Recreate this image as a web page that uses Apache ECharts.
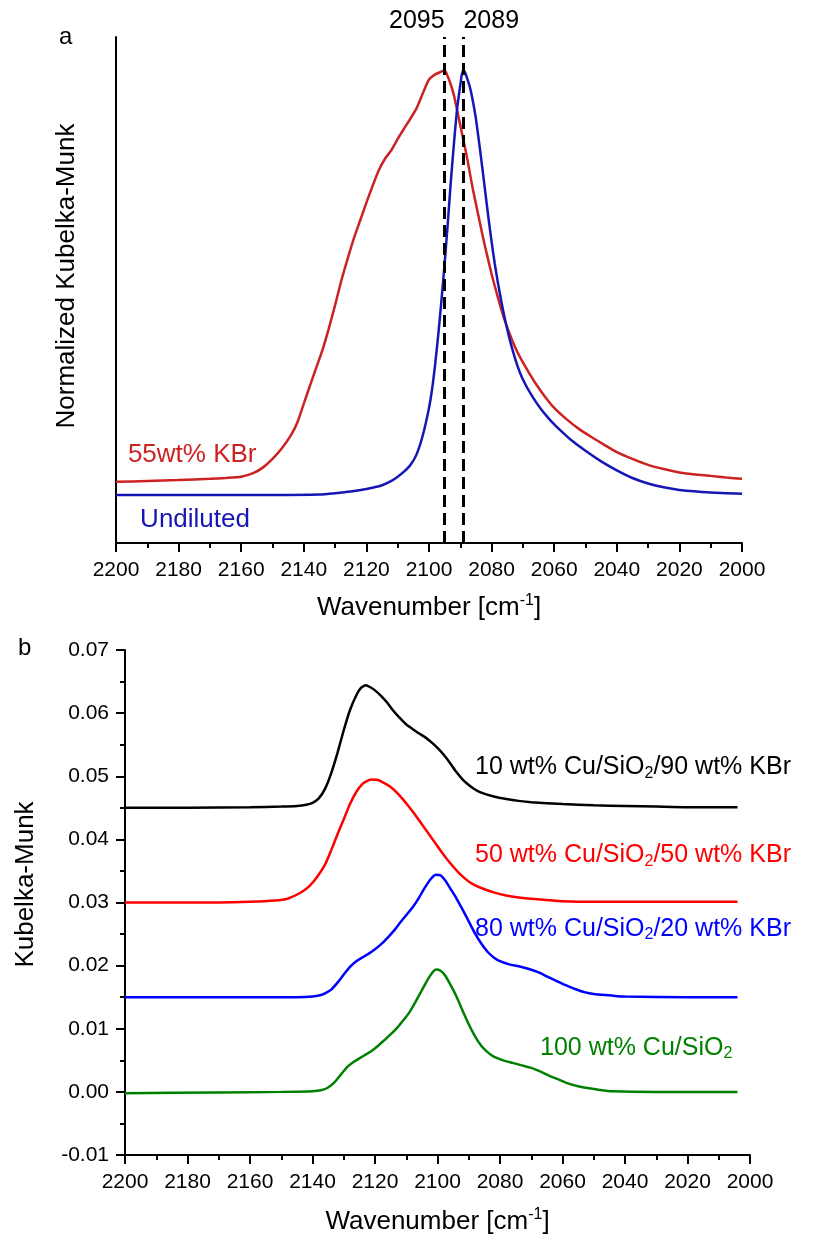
<!DOCTYPE html>
<html>
<head>
<meta charset="utf-8">
<script src="https://cdn.jsdelivr.net/npm/echarts@6/dist/echarts.min.js"></script>
<style>
  html, body { margin: 0; padding: 0; background: #fff; }
  #chart { width: 817px; height: 1236px; }
</style>
</head>
<body>
<div id="chart"></div>
<script>
// ---- Panel a: normalized Kubelka-Munk spectra ----
const kbrWn = [2200, 2190, 2180, 2170, 2165, 2160, 2156, 2153, 2150, 2147, 2144, 2142, 2140, 2138, 2136, 2134, 2132, 2130, 2128, 2126, 2124, 2122, 2120, 2118, 2116, 2114, 2112, 2110, 2108, 2106, 2104, 2102, 2100, 2098, 2096.5, 2095, 2094, 2093, 2092, 2091, 2090, 2089, 2088, 2087, 2086, 2085, 2084, 2083, 2082, 2080, 2078, 2076, 2074, 2072, 2070, 2068, 2066, 2063, 2060, 2056, 2052, 2048, 2044, 2040, 2035, 2030, 2025, 2020, 2015, 2010, 2005, 2000];
const kbrKM = [0.031, 0.033, 0.035, 0.038, 0.040, 0.043, 0.052, 0.065, 0.085, 0.110, 0.142, 0.172, 0.215, 0.258, 0.300, 0.342, 0.392, 0.447, 0.505, 0.556, 0.604, 0.646, 0.688, 0.728, 0.765, 0.792, 0.812, 0.838, 0.862, 0.885, 0.910, 0.945, 0.978, 0.990, 0.995, 1.000, 0.985, 0.965, 0.940, 0.905, 0.870, 0.835, 0.800, 0.760, 0.720, 0.685, 0.650, 0.615, 0.582, 0.520, 0.465, 0.415, 0.375, 0.340, 0.312, 0.287, 0.263, 0.232, 0.205, 0.178, 0.155, 0.136, 0.118, 0.101, 0.085, 0.071, 0.061, 0.053, 0.048, 0.045, 0.041, 0.038];

const undWn = [2200, 2150, 2135, 2130, 2125, 2120, 2115, 2112, 2110, 2108, 2106, 2104, 2102, 2100, 2099, 2098, 2097, 2096, 2095, 2094, 2093, 2092, 2091, 2090, 2089.5, 2089, 2088.5, 2088, 2087, 2086, 2085, 2084, 2083, 2082, 2081, 2080, 2079, 2078, 2077, 2076, 2075, 2074, 2072, 2070, 2067, 2064, 2061, 2058, 2055, 2050, 2045, 2040, 2035, 2030, 2025, 2020, 2010, 2000];
const undKM = [0, 0, 0.001, 0.004, 0.008, 0.014, 0.023, 0.033, 0.043, 0.055, 0.070, 0.095, 0.140, 0.205, 0.250, 0.310, 0.380, 0.460, 0.545, 0.640, 0.740, 0.830, 0.910, 0.965, 0.990, 1.000, 0.995, 0.985, 0.962, 0.928, 0.885, 0.830, 0.772, 0.712, 0.652, 0.596, 0.545, 0.500, 0.460, 0.423, 0.390, 0.360, 0.310, 0.272, 0.232, 0.200, 0.174, 0.152, 0.132, 0.104, 0.079, 0.058, 0.040, 0.027, 0.018, 0.012, 0.006, 0.003];

const peakPositions = [2095, 2089];

// ---- Panel b: Kubelka-Munk spectra for different dilutions (offset) ----
const wn10 = [2200, 2180, 2160, 2150, 2145, 2142, 2140, 2138, 2136, 2134, 2132, 2130, 2128, 2126, 2124.5, 2123, 2121.5, 2120, 2118, 2116, 2114, 2112, 2110, 2108, 2106, 2104, 2102, 2100, 2098, 2096, 2094, 2092, 2090, 2088, 2086, 2082, 2078, 2074, 2070, 2060, 2050, 2040, 2030, 2020, 2004];
const km10 = [0.0450, 0.0450, 0.0451, 0.0452, 0.0453, 0.0455, 0.0458, 0.0465, 0.0480, 0.0505, 0.0537, 0.0573, 0.0605, 0.0628, 0.0640, 0.0644, 0.0641, 0.0636, 0.0627, 0.0616, 0.0603, 0.0592, 0.0582, 0.0575, 0.0568, 0.0562, 0.0554, 0.0545, 0.0534, 0.0521, 0.0507, 0.0495, 0.0486, 0.0479, 0.0474, 0.0468, 0.0464, 0.0461, 0.0459, 0.0456, 0.0454, 0.0453, 0.0452, 0.0451, 0.0451];

const wn50 = [2200, 2170, 2160, 2152, 2148, 2144, 2141, 2138.6, 2136, 2134, 2132, 2130, 2128, 2126, 2124, 2122, 2121, 2119, 2117, 2115, 2113, 2111, 2109, 2107, 2105, 2103, 2101, 2099, 2097, 2095, 2093, 2091, 2089, 2086, 2082, 2078, 2074, 2068, 2060, 2050, 2004];
const km50 = [0.0300, 0.0300, 0.0301, 0.0303, 0.0306, 0.0315, 0.0326, 0.0340, 0.0360, 0.0383, 0.0408, 0.0432, 0.0456, 0.0475, 0.0488, 0.0494, 0.0495, 0.0494, 0.0489, 0.0483, 0.0474, 0.0463, 0.0451, 0.0438, 0.0424, 0.0410, 0.0396, 0.0382, 0.0369, 0.0357, 0.0346, 0.0337, 0.0330, 0.0323, 0.0316, 0.0311, 0.0308, 0.0305, 0.0302, 0.0301, 0.0301];

const wn80 = [2200, 2160, 2145, 2140, 2137.6, 2136, 2134, 2132, 2130, 2128, 2126, 2124, 2122, 2120, 2118, 2116, 2114, 2112, 2110, 2108, 2106, 2104, 2102, 2100.5, 2099, 2097.5, 2096, 2094, 2092, 2090, 2088, 2086, 2084, 2082, 2080, 2077, 2074, 2071, 2068, 2065, 2062, 2059, 2056, 2053, 2050, 2045, 2040, 2020, 2004];
const km80 = [0.0150, 0.0150, 0.0150, 0.0151, 0.0153, 0.0156, 0.0162, 0.0173, 0.0186, 0.0198, 0.0207, 0.0213, 0.0219, 0.0226, 0.0234, 0.0244, 0.0255, 0.0268, 0.0280, 0.0292, 0.0307, 0.0324, 0.0338, 0.0344, 0.0343, 0.0335, 0.0323, 0.0307, 0.0289, 0.0270, 0.0251, 0.0235, 0.0222, 0.0213, 0.0207, 0.0202, 0.0199, 0.0195, 0.0190, 0.0183, 0.0176, 0.0169, 0.0163, 0.0158, 0.0155, 0.0153, 0.0151, 0.0150, 0.0150];

const wn100 = [2200, 2170, 2150, 2140, 2137, 2135, 2133, 2131, 2129, 2127, 2125, 2123, 2121, 2119, 2117, 2115, 2113, 2111, 2109, 2107, 2105, 2103, 2101.5, 2100.5, 2099, 2097.5, 2096, 2094, 2092, 2090, 2088, 2086, 2084, 2082, 2079, 2076, 2073, 2070, 2067, 2064, 2061, 2058, 2055, 2052, 2048, 2044, 2030, 2004];
const km100 = [-0.0002, -0.0001, 0.0000, 0.0001, 0.0003, 0.0007, 0.0015, 0.0027, 0.0039, 0.0047, 0.0053, 0.0059, 0.0065, 0.0073, 0.0082, 0.0091, 0.0101, 0.0113, 0.0126, 0.0143, 0.0161, 0.0179, 0.0190, 0.0194, 0.0192, 0.0184, 0.0171, 0.0152, 0.0129, 0.0107, 0.0088, 0.0073, 0.0063, 0.0056, 0.0050, 0.0046, 0.0042, 0.0038, 0.0032, 0.0025, 0.0019, 0.0013, 0.0009, 0.0006, 0.0003, 0.0001, 0.0000, 0.0000];

const xTicks = { min: 2000, max: 2200, interval: 20 };
const yTicksB = { min: -0.01, max: 0.07, interval: 0.01 };

const FONT = '"Liberation Sans", Arial, sans-serif';
const pair = (xs, ys) => xs.map((x, i) => [x, ys[i]]);

// A zero-size marker that carries a text label, anchored in data space
function labelPoint(coord, text, color, size, rich) {
  return {
    symbol: 'circle',
    symbolSize: 0,
    silent: true,
    data: [{ coord: coord }],
    label: {
      show: true,
      position: 'right',
      distance: 0,
      formatter: text,
      color: color,
      fontFamily: FONT,
      fontSize: size,
      rich: rich
    }
  };
}

function subRich(color) {
  return {
    t: { fontSize: 25, color: color, fontFamily: FONT, lineHeight: 28 },
    sub: { fontSize: 16, color: color, fontFamily: FONT, verticalAlign: 'bottom', lineHeight: 18 }
  };
}

const wavenumberName = '{a|Wavenumber [cm}{s|-1}{a|]}';
const nameRich = {
  a: { fontSize: 26, fontFamily: FONT, color: '#000', lineHeight: 30 },
  s: { fontSize: 16, fontFamily: FONT, color: '#000', verticalAlign: 'top', lineHeight: 16 }
};

const axisBase = {
  axisLine: { show: true, onZero: false, lineStyle: { color: '#000', width: 2 } },
  axisTick: { show: true, inside: false, length: 9, lineStyle: { color: '#000', width: 2 } },
  minorTick: { show: true, splitNumber: 2, length: 5, lineStyle: { color: '#000', width: 2 } },
  splitLine: { show: false },
  minorSplitLine: { show: false }
};

const xLabel = { fontSize: 21, color: '#000', margin: 17, fontFamily: FONT, formatter: v => String(v) };

function spectrum(name, xs, ys, color, axis, extra) {
  return Object.assign({
    name: name, type: 'line', xAxisIndex: axis, yAxisIndex: axis,
    data: pair(xs, ys), showSymbol: false, smooth: 0.2,
    lineStyle: { color: color, width: 2.5 }, itemStyle: { color: color }
  }, extra || {});
}

const chart = echarts.init(document.getElementById('chart'), null, { renderer: 'canvas' });

chart.setOption({
  backgroundColor: '#fff',
  animation: false,
  textStyle: { fontFamily: FONT },
  graphic: [
    { type: 'text', left: 59, top: 25, style: { text: 'a', font: '24px ' + FONT, fill: '#000' } },
    { type: 'text', left: 18, top: 636, style: { text: 'b', font: '24px ' + FONT, fill: '#000' } }
  ],
  grid: [
    { left: 116, top: 37, width: 626, height: 506 },
    { left: 125, top: 650, width: 625, height: 505 }
  ],
  xAxis: [
    Object.assign({}, axisBase, {
      type: 'value', gridIndex: 0, inverse: true,
      min: xTicks.min, max: xTicks.max, interval: xTicks.interval,
      name: wavenumberName, nameLocation: 'middle', nameGap: 50,
      nameTextStyle: { rich: nameRich },
      axisLabel: xLabel
    }),
    Object.assign({}, axisBase, {
      type: 'value', gridIndex: 1, inverse: true,
      min: xTicks.min, max: xTicks.max, interval: xTicks.interval,
      name: wavenumberName, nameLocation: 'middle', nameGap: 52,
      nameTextStyle: { rich: nameRich },
      axisLabel: xLabel
    })
  ],
  yAxis: [
    {
      type: 'value', gridIndex: 0, min: -0.113, max: 1.078,
      name: 'Normalized Kubelka-Munk', nameLocation: 'middle', nameGap: 36,
      nameTextStyle: { fontSize: 26, color: '#000', fontFamily: FONT, padding: [0, 0, 0, 28] },
      axisLine: { show: true, onZero: false, lineStyle: { color: '#000', width: 2 } },
      axisTick: { show: false }, axisLabel: { show: false },
      splitLine: { show: false }
    },
    Object.assign({}, axisBase, {
      type: 'value', gridIndex: 1,
      min: yTicksB.min, max: yTicksB.max, interval: yTicksB.interval,
      name: 'Kubelka-Munk', nameLocation: 'middle', nameGap: 86,
      nameTextStyle: { fontSize: 26, color: '#000', fontFamily: FONT, padding: [0, 0, 0, 36] },
      axisLabel: { fontSize: 21, color: '#000', margin: 16, fontFamily: FONT,
        formatter: v => v.toFixed(2) }
    })
  ],
  series: [
    spectrum('55wt% KBr', kbrWn, kbrKM, '#cc2222', 0, {
      z: 3,
      markPoint: labelPoint([2196.2, 0.094], '55wt% KBr', '#cc2222', 26)
    }),
    spectrum('Undiluted', undWn, undKM, '#1616b4', 0, {
      z: 3,
      markPoint: labelPoint([2192.3, -0.059], 'Undiluted', '#1616b4', 26),
      markLine: {
        silent: true, symbol: ['none', 'none'], animation: false,
        lineStyle: { color: '#000', width: 3, type: [12, 6] },
        label: { show: true, position: 'end', distance: 3, fontSize: 25, color: '#000', fontFamily: FONT,
          formatter: p => String(p.value) },
        data: peakPositions.map((v, i) => ({
          xAxis: v,
          label: { align: i === 0 ? 'right' : 'left' }
        }))
      }
    }),
    spectrum('10 wt%', wn10, km10, '#000000', 1, {
      markPoint: labelPoint([2088, 0.0514], '{t|10 wt% Cu/SiO}{sub|2}{t|/90 wt% KBr}', '#000000', 25, subRich('#000000'))
    }),
    spectrum('50 wt%', wn50, km50, '#ff0000', 1, {
      markPoint: labelPoint([2088, 0.0375], '{t|50 wt% Cu/SiO}{sub|2}{t|/50 wt% KBr}', '#ff0000', 25, subRich('#ff0000'))
    }),
    spectrum('80 wt%', wn80, km80, '#0000ff', 1, {
      markPoint: labelPoint([2088, 0.0258], '{t|80 wt% Cu/SiO}{sub|2}{t|/20 wt% KBr}', '#0000ff', 25, subRich('#0000ff'))
    }),
    spectrum('100 wt%', wn100, km100, '#008000', 1, {
      markPoint: labelPoint([2067.2, 0.0070], '{t|100 wt% Cu/SiO}{sub|2}', '#008000', 25, subRich('#008000'))
    })
  ]
});
</script>
</body>
</html>
